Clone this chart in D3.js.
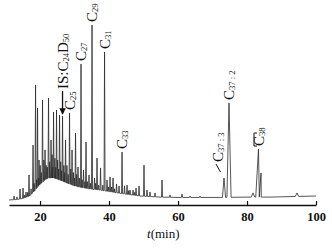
<!DOCTYPE html>
<html><head><meta charset="utf-8">
<script src="https://cdn.jsdelivr.net/npm/d3@7/dist/d3.min.js"></script>
<style>
html,body{margin:0;padding:0;background:#fff;}
svg{display:block;}
text{font-family:"Liberation Serif","DejaVu Serif",serif;fill:#111;}
</style></head>
<body>
<svg id="c" width="332" height="251"></svg>
<script>
// Baseline (t in min, relative intensity)
const baseline = [[11.0,2.8],[13.0,3.0],[15.0,3.6],[17.0,5.0],[18.5,8.0],[19.5,10.5],[20.6,12.5],[21.5,14.0],[22.5,15.0],[24.0,15.0],[25.5,14.0],[27.0,12.8],[28.5,11.7],[30.0,10.6],[32.0,9.7],[34.5,8.9],[37.4,8.3],[40.9,7.2],[44.6,6.1],[49.0,5.0],[54.8,4.4],[60.6,4.2],[72.2,4.2],[80.9,4.4],[86.7,4.4],[100,5.0]];
// Peaks: [retention time, apex intensity, half width]
const peaks = [
 [12.46,5.0,0.15],[13.30,4.5,0.12],[14.20,8.9,0.15],[15.07,9.4,0.15],[15.50,5.5,0.12],[15.94,7.2,0.15],[16.40,7.0,0.12],[16.81,16.7,0.15],[17.40,9.0,0.12],[17.97,33.3,0.15],
 [18.30,12.0,0.1],[18.70,66.7,0.15],[19.00,14.0,0.1],[19.28,53.9,0.15],[19.50,15.0,0.1],[19.71,25.0,0.15],[20.05,22.0,0.12],[20.35,18.0,0.1],[20.72,58.3,0.15],[21.10,25.0,0.12],
 [21.45,30.6,0.15],[21.80,22.0,0.12],[22.10,21.0,0.1],[22.46,59.4,0.15],[22.80,24.0,0.12],[23.19,36.1,0.15],[23.50,28.0,0.12],
 [23.70,21.0,0.1],[23.91,51.7,0.15],[24.30,26.0,0.12],[24.55,21.0,0.1],[24.78,52.8,0.15],[25.10,25.0,0.12],[25.40,20.0,0.1],[25.65,50.0,0.15],[26.00,24.0,0.12],
 [26.25,19.0,0.1],[26.52,49.4,0.15],[26.90,22.0,0.12],[27.15,18.0,0.1],[27.39,36.1,0.15],[27.80,22.0,0.12],[28.15,17.0,0.1],[28.55,51.1,0.15],[28.90,20.0,0.12],
 [29.28,30.6,0.15],[29.70,18.0,0.12],[30.00,15.0,0.1],[30.29,40.0,0.15],[30.60,17.0,0.12],[31.01,21.1,0.15],[31.40,15.0,0.12],
 [31.88,78.3,0.15],[32.20,14.0,0.12],[32.61,19.4,0.15],[33.00,13.0,0.1],[33.33,35.0,0.15],[33.70,13.0,0.12],[34.20,16.7,0.15],
 [34.60,12.0,0.12],[35.07,100.0,0.15],[35.80,15.0,0.15],[36.10,12.0,0.12],[36.52,26.1,0.15],[37.00,11.0,0.12],
 [37.54,20.6,0.15],[38.20,11.0,0.12],[38.70,85.0,0.15],[39.42,13.9,0.15],[39.80,10.0,0.12],[40.29,15.6,0.15],
 [40.70,10.0,0.12],[41.16,15.0,0.15],[41.60,9.0,0.12],[42.17,11.7,0.15],[42.90,10.6,0.15],[43.77,29.4,0.15],
 [44.49,10.6,0.15],[45.22,11.1,0.15],[45.70,8.0,0.12],[46.09,8.3,0.15],[46.96,8.3,0.15],[47.40,7.0,0.12],
 [47.83,9.4,0.15],[48.70,10.6,0.15],[50.14,22.2,0.15],[51.01,8.3,0.15],[51.88,7.2,0.15],[53.33,6.7,0.15],
 [55.36,13.9,0.15],[57.68,5.6,0.15],[61.16,6.1,0.2],[63.48,5.0,0.2],[66.38,5.0,0.2],
 [73.33,15.0,0.45],[74.78,56.7,0.6],[81.74,6.7,0.5],[83.33,31.1,0.8],[84.06,17.8,0.5],[94.49,6.7,0.5]
];
const xTicks = [20,40,60,80,100];
const labelPeaks = [
 {t:28.55, main:"C", sub:"25"},
 {t:31.88, main:"C", sub:"27"},
 {t:35.07, main:"C", sub:"29"},
 {t:38.70, main:"C", sub:"31"},
 {t:43.77, main:"C", sub:"33"},
 {t:74.78, main:"C", sub:"37 : 2"},
 {t:73.33, main:"C", sub:"37 : 3"},
 {t:83.33, main:"C", sub:"38"}
];
const isPeak = {t:26.52, parts:[["IS:C",0],["24",1],["D",0],["50",1]]};
const xTitle = "min";

const svg = d3.select("#c");
const x = d3.scaleLinear().domain([11,100]).range([9,316]);
const y = d3.scaleLinear().domain([0,100]).range([205,25]);

function baseAt(t){
  for(let i=0;i<baseline.length-1;i++){
    const a=baseline[i], b=baseline[i+1];
    if(t>=a[0] && t<=b[0]) return a[1]+(b[1]-a[1])*(t-a[0])/(b[0]-a[0]);
  }
  return baseline[baseline.length-1][1];
}
let pts = baseline.filter(b => !peaks.some(p => b[0]>p[0]-p[2] && b[0]<p[0]+p[2])).map(d=>d.slice());
peaks.forEach(p=>{
  pts.push([p[0]-p[2], baseAt(p[0]-p[2])]);
  pts.push([p[0], p[1]]);
  pts.push([p[0]+p[2], baseAt(p[0]+p[2])]);
});
pts.sort((a,b)=>a[0]-b[0]);

svg.append("path").attr("d", d3.line().x(d=>x(d[0])).y(d=>y(d[1]))(pts))
  .attr("fill","none").attr("stroke","#2a2a2a").attr("stroke-width",0.8).attr("stroke-linejoin","round");

// axis
const ax = svg.append("g").attr("transform","translate(0,205)")
  .call(d3.axisBottom(x).tickValues(xTicks).tickSizeInner(-4).tickSizeOuter(0).tickPadding(7).tickFormat(d3.format("d")));
ax.select(".domain").attr("stroke","#111").attr("stroke-width",1.4);
ax.selectAll(".tick line").attr("stroke","#111").attr("stroke-width",1.2);
ax.selectAll(".tick text").attr("font-family","Liberation Serif").attr("font-size",12.5).attr("font-weight","bold").attr("fill","#222");

const tt = svg.append("text").attr("x",147).attr("y",238).attr("font-size",13);
tt.append("tspan").attr("font-style","italic").text("t");
tt.append("tspan").text("(" + xTitle + ")");

// peak labels
function peakApex(t){ return peaks.find(p=>Math.abs(p[0]-t)<1e-6)[1]; }
labelPeaks.forEach(l=>{
  let px = x(l.t), py = y(peakApex(l.t)) - 3;
  if(l.sub==="37 : 3"){
    svg.append("line").attr("x1",px-8).attr("y1",py-11).attr("x2",px-3.5).attr("y2",py-3)
      .attr("stroke","#111").attr("stroke-width",1);
    px = px - 6; py = py - 13;
  }
  if(l.sub==="38"){
    svg.append("path").attr("d",`M${px-1.5},${py-13}H${px-4.5}V${py}H${px-1.5}`)
      .attr("fill","none").attr("stroke","#111").attr("stroke-width",1);
    px = px + 1;
  }
  const g = svg.append("g").attr("transform",`translate(${px},${py}) rotate(-90)`);
  const tx = g.append("text").attr("x",0).attr("y",0).attr("dominant-baseline","central").attr("font-size",15);
  tx.append("tspan").text(l.main);
  tx.append("tspan").attr("font-size",8.5).attr("dy",3).text(l.sub);
});

// internal standard label with arrow
{
  const px = x(isPeak.t), apexY = y(peakApex(isPeak.t));
  svg.append("defs").append("marker").attr("id","ah").attr("viewBox","0 0 10 10").attr("refX",9).attr("refY",5)
    .attr("markerWidth",5).attr("markerHeight",5).attr("orient","auto")
    .append("path").attr("d","M0,0L10,5L0,10z").attr("fill","#111");
  svg.append("line").attr("x1",px).attr("y1",apexY-25).attr("x2",px).attr("y2",apexY-2)
    .attr("stroke","#111").attr("stroke-width",1.3).attr("marker-end","url(#ah)");
  const g = svg.append("g").attr("transform",`translate(${px+0.5},${apexY-27}) rotate(-90)`);
  const tx = g.append("text").attr("dominant-baseline","central").attr("font-size",15);
  let prevSub = 0;
  isPeak.parts.forEach(([s,sub])=>{
    const ts = tx.append("tspan").text(s).attr("font-size", sub?8.5:15);
    if(sub!==prevSub) ts.attr("dy", sub? 3 : -3);
    prevSub = sub;
  });
}
</script>
</body></html>
